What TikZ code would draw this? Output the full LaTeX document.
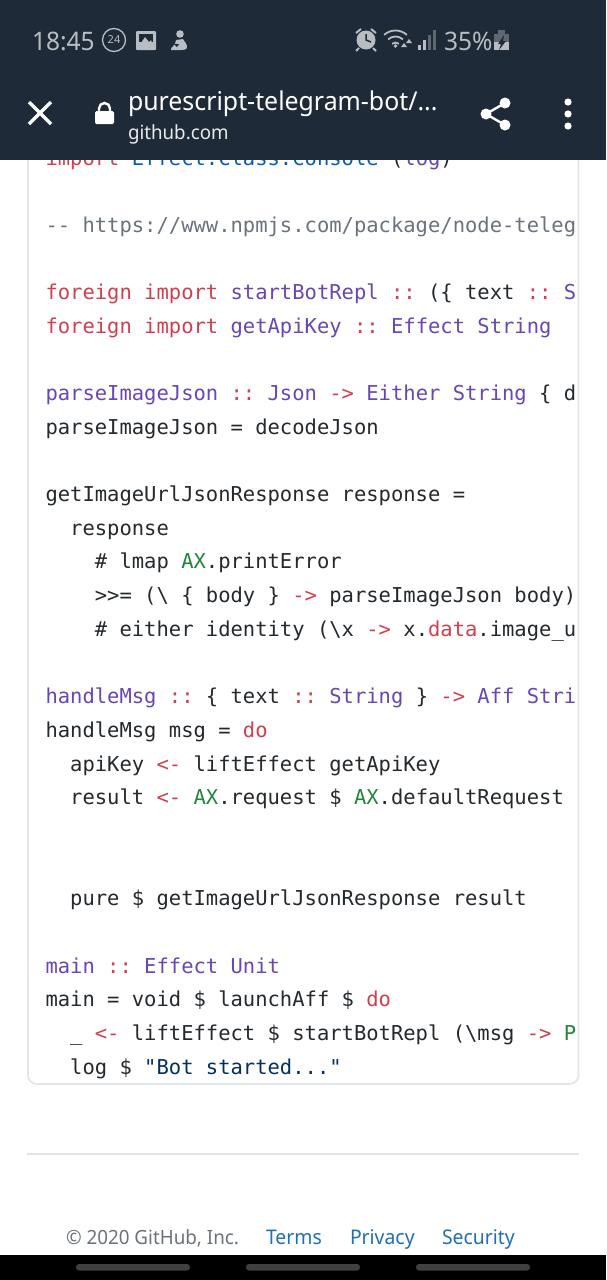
\documentclass[tikz,border=0pt]{standalone}
\usepackage{fontspec}
\setmainfont{Noto Sans}
\newfontfamily\codefont{DejaVu Sans Mono}
\newfontfamily\uifont[FakeStretch=0.96]{Noto Sans}
\usetikzlibrary{positioning}
\definecolor{barcol}{HTML}{1F2A38}
\definecolor{iconcol}{HTML}{B9BDC2}
\definecolor{icondim}{HTML}{5E6670}
\definecolor{kwred}{HTML}{CF3F4E}
\definecolor{fnpurple}{HTML}{6A45B5}
\definecolor{nsblue}{HTML}{005CC5}
\definecolor{modgreen}{HTML}{22863A}
\definecolor{strnavy}{HTML}{032F62}
\definecolor{cmtgray}{HTML}{6A737D}
\definecolor{txtblack}{HTML}{24292E}
\definecolor{linkblue}{HTML}{1F6FB5}
\definecolor{rulegray}{HTML}{E1E4E8}
\newcommand{\kw}[1]{\textcolor{kwred}{#1}}
\newcommand{\fn}[1]{\textcolor{fnpurple}{#1}}
\newcommand{\ns}[1]{\textcolor{nsblue}{#1}}
\newcommand{\md}[1]{\textcolor{modgreen}{#1}}
\newcommand{\st}[1]{\textcolor{strnavy}{#1}}
\tikzset{
  code/.style = {anchor=base west, inner sep=0pt, outer sep=0pt, text=txtblack,
    font=\codefont\fontsize{20.5}{24}\selectfont\frenchspacing},
  ui/.style = {anchor=base west, inner sep=0pt, outer sep=0pt},
  link/.style = {ui, text=linkblue, font=\uifont\fontsize{20.2}{24}\selectfont}
}
\begin{document}
\begin{tikzpicture}[x=1pt, y=-1pt]
  \useasboundingbox (0,0) rectangle (606,1280);
  \fill[white] (0,0) rectangle (606,1280);

  % code box
  \draw[rulegray, line width=1.6pt, rounded corners=9pt] (28,120) -- (28,1084) -- (578.5,1084) -- (578.5,120);
  \begin{scope}
    \clip (29,120) rectangle (577,1083);
    \node[code] (importline) at (45.5,165) {\kw{import} \ns{Effect.Class.Console} (\fn{log})};
    \node[code, text=cmtgray] (urlline) at (45.5,232) {-- https://www.npmjs.com/package/node-teleg};
    \node[code] (replline) at (45.5,299) {\kw{foreign} \kw{import} \fn{startBotRepl} \kw{::} (\{ text \kw{::} \fn{S}};
    \node[code] (keyline) at (45.5,333) {\kw{foreign} \kw{import} \fn{getApiKey} \kw{::} \fn{Effect String}};
    \node[code] (parsesig) at (45.5,400) {\fn{parseImageJson} \kw{::} \fn{Json} \kw{->} \fn{Either String} \{ d};
    \node[code] (parsedef) at (45.5,434) {parseImageJson = decodeJson};
    \node[code] (respdef) at (45.5,501) {getImageUrlJsonResponse response =};
    \node[code] (respbody) at (45.5,535) {\ \ response};
    \node[code] (lmapline) at (45.5,568) {\ \ \ \ \# lmap \md{AX}.printError};
    \node[code] (bindline) at (45.5,602) {\ \ \ \ >>= (\textbackslash\ \{ body \} \kw{->} parseImageJson body)};
    \node[code] (eitherline) at (45.5,636) {\ \ \ \ \# either identity (\textbackslash x \kw{->} x.\kw{data}.image\_u};
    \node[code] (msgsig) at (45.5,703) {\fn{handleMsg} \kw{::} \{ text \kw{::} \fn{String} \} \kw{->} \fn{Aff Stri}};
    \node[code] (msgdef) at (45.5,737) {handleMsg msg = \kw{do}};
    \node[code] (apiline) at (45.5,771) {\ \ apiKey \kw{<-} liftEffect getApiKey};
    \node[code] (resultline) at (45.5,804) {\ \ result \kw{<-} \md{AX}.request \$ \md{AX}.defaultRequest};
    \node[code] (pureline) at (45.5,905) {\ \ pure \$ getImageUrlJsonResponse result};
    \node[code] (mainsig) at (45.5,973) {\fn{main} \kw{::} \fn{Effect Unit}};
    \node[code] (maindef) at (45.5,1006) {main = void \$ launchAff \$ \kw{do}};
    \node[code] (startline) at (45.5,1040) {\ \ \_ \kw{<-} liftEffect \$ startBotRepl (\textbackslash msg \kw{->} \md{P}};
    \node[code] (logline) at (45.5,1074) {\ \ log \$ \st{"Bot started..."}};
  \end{scope}

  % footer
  \draw[rulegray, line width=1.2pt] (27,1154) -- (579,1154);
  \node[ui, text=cmtgray, font=\uifont\fontsize{19.6}{24}\selectfont] (copyright) at (66,1244) {© 2020 GitHub, Inc.};
  \node[link] (terms) at (266,1244) {Terms};
  \node[link] (privacy) at (350,1244) {Privacy};
  \node[link] (security) at (442,1244) {Security};

  % navigation bar
  \fill[black] (0,1255) rectangle (606,1280);
  \foreach \px in {76,246,416}
    \fill[white!25!black, rounded corners=3pt] (\px,1264) rectangle ++(114,6.5);

  % top bar
  \fill[barcol] (0,0) rectangle (606,160);
  \node[ui, text=iconcol, font=\uifont\fontsize{25.5}{28}\selectfont] (clock) at (32,50) {18:45};
  \draw[iconcol, line width=1.3pt] (114,40) circle (11.5);
  \node[text=iconcol, inner sep=0pt, font=\fontsize{11}{12}\selectfont\bfseries] (badge) at (114,40) {24};
  \fill[iconcol, rounded corners=1pt] (136,31) rectangle (156,50);
  \fill[barcol] (139,34) rectangle (153,42);
  \fill[iconcol] (139,46) -- (145,37) -- (149,42) -- (151,40) -- (153,46) -- cycle;
  % seated figure
  \fill[iconcol] (180,34) circle (3.8);
  \fill[iconcol] (171,50) .. controls (170,47) and (176,46) .. (176,40) -- (183,39) .. controls (184,42) and (187,43) .. (187,47) .. controls (187,50) and (183,50) .. (181,50) -- cycle;
  \fill[barcol] (174,44) -- (179,44) -- (177,47) -- cycle;

  \fill[iconcol] (366,40) circle (9.5);
  \draw[barcol, line width=1.5pt] (366,34) -- (366,40) -- (371,42);
  \draw[iconcol, line width=2pt] (356,33) -- (361,29) (371,29) -- (376,33) (359,48) -- (356,51) (373,48) -- (376,51);
  \foreach \rad in {5,11,17}
    \draw[iconcol, line width=1.8pt] (395.5,47.5) ++(228:\rad) arc[start angle=228, end angle=312, radius=\rad];
  \fill[iconcol] (395.5,46) circle (1.8);
  \fill[iconcol] (401,47) -- (404,43) -- (407,47) -- cycle;
  \fill[iconcol] (406,43) -- (409,39) -- (412,43) -- cycle;
  \foreach \bx/\btop/\bcol in {418/45/iconcol,423/40/iconcol,428/35/icondim,433/30/icondim}
    \fill[\bcol] (\bx,\btop) rectangle ++(2.8,50-\btop);
  \node[ui, text=iconcol, font=\uifont\fontsize{25.5}{28}\selectfont] (battery) at (444,50) {35\%};
  \fill[icondim] (494,34) rectangle (509,42);
  \fill[icondim] (498,30) rectangle (505,34);
  \fill[iconcol] (494,42) rectangle (509,50);
  \fill[barcol] (504,35) -- (498,44) -- (501,44) -- (499,50) -- (506,41) -- (503,41) -- cycle;

  % browser row
  \draw[white, line width=3.2pt] (29,102) -- (51,124) (51,102) -- (29,124);
  \fill[white, rounded corners=1.5pt] (95,111) rectangle (114,124);
  \draw[white, line width=2.4pt] (99,113) -- (99,108.5) arc[start angle=180, end angle=360, radius=5.5] -- (110,113);
  \node[ui, text=white, font=\uifont\fontsize{25.9}{28}\selectfont] (pagetitle) at (128,110) {purescript-telegram-bot/...};
  \node[ui, text=white!90!barcol, font=\uifont\fontsize{19.5}{24}\selectfont] (hostname) at (128,139) {github.com};
  \draw[white, line width=2.4pt] (505,103) -- (486,114) -- (505,125);
  \foreach \py/\qx in {103/505,114/486,125/505}
    \fill[white] (\qx,\py) circle (5.5);
  \foreach \py in {102,114,126}
    \fill[white] (568,\py) circle (3.6);
\end{tikzpicture}
\end{document}
